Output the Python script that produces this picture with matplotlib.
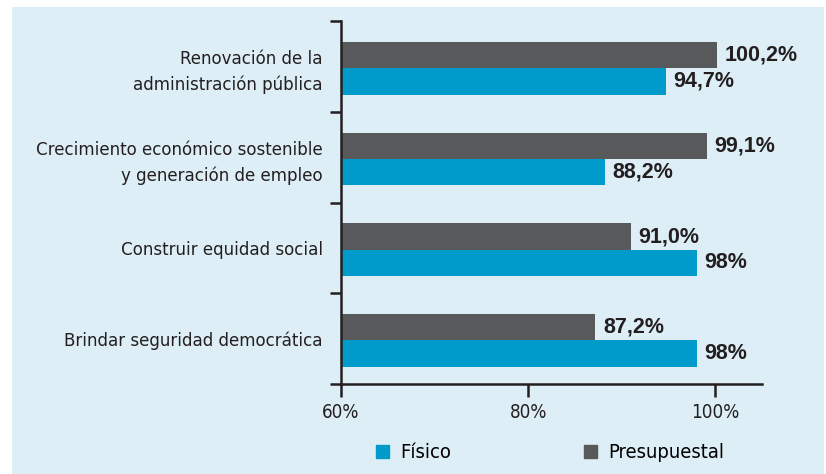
import numpy as np
import matplotlib
matplotlib.use('Agg')
import matplotlib.pyplot as plt
from matplotlib.patches import Rectangle, Patch

# data, top to bottom
categorias = ['Renovación de la\nadministración pública',
              'Crecimiento económico sostenible\ny generación de empleo',
              'Construir equidad social',
              'Brindar seguridad democrática']
presupuestal = [100.2, 99.1, 91.0, 87.2]
fisico = [94.7, 88.2, 98, 98]
etiq_presup = ['100,2%', '99,1%', '91,0%', '87,2%']
etiq_fisico = ['94,7%', '88,2%', '98%', '98%']
xticks = [60, 80, 100]
xtick_labels = ['60%', '80%', '100%']

azul = '#009BCB'
gris = '#58595B'
fondo = '#DDEEF6'
texto = '#231F20'

narrow = dict(family='DejaVu Sans', stretch='condensed')
bold = ['Liberation Sans', 'DejaVu Sans']

fig = plt.figure(figsize=(8.26, 4.74), dpi=100)
fig.patch.set_facecolor('white')
fig.patches.append(Rectangle((12/826, 0), (824-12)/826, (474-7)/474,
                             transform=fig.transFigure, facecolor=fondo,
                             edgecolor='none', zorder=-5))

ax = fig.add_axes([341/826, 1-384/474, (762-341)/826, (384-21)/474])
ax.set_facecolor('none')

n = len(categorias)
y = np.arange(n)[::-1] + 0.5   # category centres, first on top
h = 0.29
off = -0.02
ax.barh(y + h/2 + off, np.array(presupuestal) - 60, left=60, height=h, color=gris)
ax.barh(y - h/2 + off, np.array(fisico) - 60, left=60, height=h, color=azul)

for yi, v, t in zip(y, presupuestal, etiq_presup):
    ax.text(v + 0.8, yi + h/2 + off, t, va='center', ha='left', fontsize=15.5,
            fontweight='bold', family=bold, color=texto)
for yi, v, t in zip(y, fisico, etiq_fisico):
    ax.text(v + 0.8, yi - h/2 + off, t, va='center', ha='left', fontsize=15.5,
            fontweight='bold', family=bold, color=texto)

ax.set_xlim(60, 105)
ax.set_ylim(0, n)
ax.set_xticks(xticks)
ax.set_xticklabels(xtick_labels, fontsize=13.5, color=texto, **narrow)
ax.set_yticks(np.arange(n + 1))
ax.set_yticklabels([])
ax.set_yticks(y, minor=True)
ax.set_yticklabels(categorias, minor=True, fontsize=13.3,
                   color=texto, ha='right', linespacing=1.5, **narrow)
ax.tick_params(axis='y', which='minor', length=0, pad=13)
ax.tick_params(axis='y', which='major', length=8, width=1.8, color=texto)
ax.tick_params(axis='x', length=9, width=1.8, color=texto, pad=5)

for s in ['top', 'right']:
    ax.spines[s].set_visible(False)
for s in ['left', 'bottom']:
    ax.spines[s].set_linewidth(1.8)
    ax.spines[s].set_color(texto)

handles = [Patch(color=azul, label='Físico'), Patch(color=gris, label='Presupuestal')]
fig.legend(handles=handles, loc='center', bbox_to_anchor=(550/826, 1-453/474),
           ncol=2, frameon=False, handlelength=0.65, handleheight=0.65,
           handletextpad=0.55, columnspacing=6.6,
           prop=dict(size=14.5, **narrow))

fig.savefig('out.png', dpi=100)
